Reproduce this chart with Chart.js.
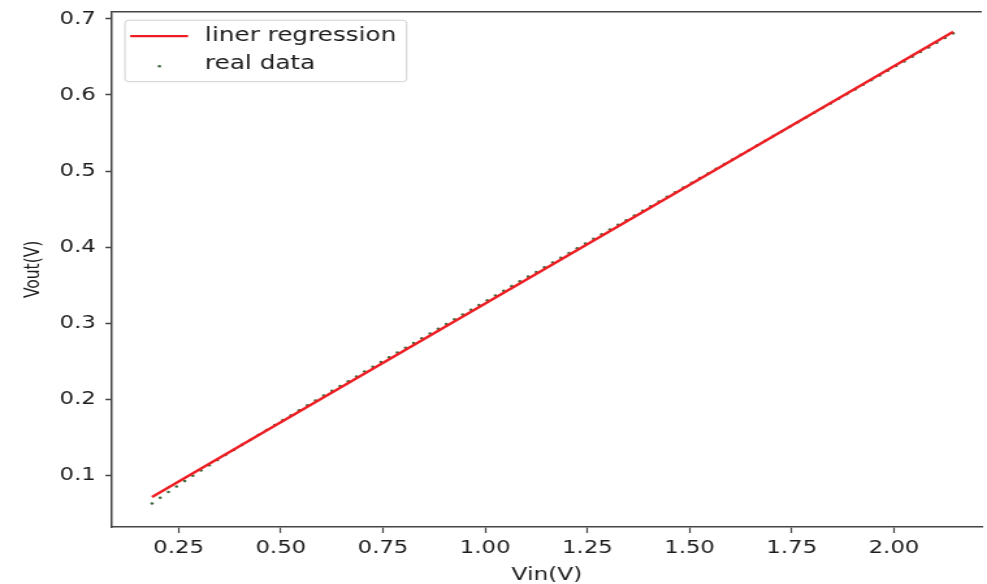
<!DOCTYPE html>
<html lang="en">
<head>
  <meta charset="UTF-8">
  <title>Vout vs Vin</title>
  <script src="https://cdn.jsdelivr.net/npm/chart.js"></script>
  <style>
    body { margin: 0; background: #fff; }
    /* drawn narrower and stretched sideways, like the saved figure */
    #vChart { width: 987px; height: 584px; }
  </style>
</head>
<body>
  <canvas id="vChart" width="759" height="584" style="width:987px;height:584px"></canvas>
  <script>
    // measured points
    const vin = [
      0.185, 0.205, 0.225, 0.245, 0.265, 0.285, 0.305, 0.325, 0.345, 0.365,
      0.385, 0.405, 0.425, 0.445, 0.465, 0.485, 0.505, 0.525, 0.545, 0.565,
      0.585, 0.605, 0.625, 0.645, 0.665, 0.685, 0.705, 0.725, 0.745, 0.765,
      0.785, 0.805, 0.825, 0.845, 0.865, 0.885, 0.905, 0.925, 0.945, 0.965,
      0.985, 1.005, 1.025, 1.045, 1.065, 1.085, 1.105, 1.125, 1.145, 1.165,
      1.185, 1.205, 1.225, 1.245, 1.265, 1.285, 1.305, 1.325, 1.345, 1.365,
      1.385, 1.405, 1.425, 1.445, 1.465, 1.485, 1.505, 1.525, 1.545, 1.565,
      1.585, 1.605, 1.625, 1.645, 1.665, 1.685, 1.705, 1.725, 1.745, 1.765,
      1.785, 1.805, 1.825, 1.845, 1.865, 1.885, 1.905, 1.925, 1.945, 1.965,
      1.985, 2.005, 2.025, 2.045, 2.065, 2.085, 2.105, 2.125, 2.145
    ];
    const vout = [
      0.0626, 0.0701, 0.0776, 0.0848, 0.0920, 0.0990, 0.1060, 0.1128, 0.1196, 0.1263,
      0.1329, 0.1396, 0.1461, 0.1527, 0.1592, 0.1658, 0.1722, 0.1787, 0.1851, 0.1916,
      0.1979, 0.2044, 0.2107, 0.2170, 0.2234, 0.2297, 0.2361, 0.2423, 0.2486, 0.2549,
      0.2612, 0.2674, 0.2737, 0.2799, 0.2861, 0.2924, 0.2986, 0.3049, 0.3111, 0.3174,
      0.3236, 0.3299, 0.3361, 0.3424, 0.3485, 0.3548, 0.3610, 0.3672, 0.3734, 0.3796,
      0.3859, 0.3920, 0.3983, 0.4044, 0.4107, 0.4168, 0.4230, 0.4291, 0.4353, 0.4414,
      0.4475, 0.4537, 0.4598, 0.4660, 0.4721, 0.4783, 0.4844, 0.4906, 0.4967, 0.5029,
      0.5090, 0.5152, 0.5213, 0.5274, 0.5336, 0.5397, 0.5459, 0.5520, 0.5582, 0.5643,
      0.5705, 0.5766, 0.5828, 0.5889, 0.5950, 0.6012, 0.6073, 0.6135, 0.6196, 0.6258,
      0.6319, 0.6381, 0.6442, 0.6504, 0.6565, 0.6626, 0.6688, 0.6749, 0.6811
    ];

    // fitted line end points
    const fitVin = [0.185, 2.145];
    const fitVout = [0.0711, 0.6832];

    // axis ticks and limits
    const xTicks = [0.25, 0.5, 0.75, 1.0, 1.25, 1.5, 1.75, 2.0];
    const yTicks = [0.1, 0.2, 0.3, 0.4, 0.5, 0.6, 0.7];
    const xMin = 0.087, xMax = 2.215;
    const yMin = 0.0316, yMax = 0.7096;

    const FONT = "'DejaVu Sans', sans-serif";
    const INK = "#1c1c1c";
    const SPINE = "#444";

    // top spine, plus a matplotlib style legend box in the upper left
    const frameLegend = {
      id: "frameLegend",
      afterDraw(chart) {
        const { ctx, chartArea: a } = chart;
        ctx.save();
        ctx.strokeStyle = SPINE;
        ctx.lineWidth = 1.6;
        ctx.beginPath();
        ctx.moveTo(a.left, a.top);
        ctx.lineTo(a.right, a.top);
        ctx.stroke();

        const sets = chart.data.datasets;
        ctx.font = "19px " + FONT;
        const textW = Math.max(...sets.map(d => ctx.measureText(d.label).width));
        const bx = a.left + 10, by = a.top + 8.5;
        const textX = bx + 61.5;
        const bw = textX - bx + textW + 8, bh = 61.5;

        ctx.fillStyle = "rgba(255,255,255,0.85)";
        ctx.strokeStyle = "#d0d0d0";
        ctx.lineWidth = 1;
        ctx.beginPath();
        ctx.roundRect(bx, by, bw, bh, 3);
        ctx.fill();
        ctx.stroke();

        const rows = [by + 16, by + 44];
        // line sample
        ctx.strokeStyle = sets[0].borderColor;
        ctx.lineWidth = sets[0].borderWidth;
        ctx.beginPath();
        ctx.moveTo(bx + 4, rows[0]);
        ctx.lineTo(bx + 48.5, rows[0]);
        ctx.stroke();
        // dot sample
        ctx.fillStyle = sets[1].backgroundColor;
        ctx.beginPath();
        ctx.arc(bx + 26.5, rows[1] + 2, sets[1].pointRadius, 0, Math.PI * 2);
        ctx.fill();

        ctx.fillStyle = INK;
        ctx.textBaseline = "middle";
        ctx.textAlign = "left";
        sets.forEach((d, i) => ctx.fillText(d.label, textX, rows[i]));
        ctx.restore();
      }
    };

    const ctx = document.getElementById("vChart").getContext("2d");
    const vChart = new Chart(ctx, {
      data: {
        datasets: [{
          type: "line",
          label: "liner regression",
          data: fitVin.map((x, i) => ({ x, y: fitVout[i] })),
          borderColor: "#ee1d23",
          borderWidth: 2.3,
          pointRadius: 0,
          fill: false
        }, {
          type: "scatter",
          label: "real data",
          data: vin.map((x, i) => ({ x, y: vout[i] })),
          backgroundColor: "#3b6b3b",
          borderWidth: 0,
          pointRadius: 1.3
        }]
      },
      options: {
        responsive: false,
        devicePixelRatio: 1,
        animation: false,
        layout: { padding: { top: 11.7, right: 0, bottom: 0, left: 0 } },
        plugins: {
          legend: { display: false },
          tooltip: { enabled: false }
        },
        scales: {
          x: {
            type: "linear",
            min: xMin,
            max: xMax,
            afterBuildTicks: s => { s.ticks = xTicks.map(v => ({ value: v })); },
            afterFit: s => { s.height = 57; s.paddingLeft = 0; s.paddingRight = 0; },
            ticks: {
              padding: 5,
              color: INK,
              font: { family: FONT, size: 17.5 },
              callback: v => Number(v).toFixed(2)
            },
            grid: { drawOnChartArea: false, drawTicks: true, tickLength: 6, tickColor: SPINE, tickWidth: 1.2 },
            border: { display: true, color: SPINE, width: 1.6 },
            title: {
              display: true,
              text: "Vin(V)",
              color: INK,
              font: { family: FONT, size: 18, lineHeight: 1 },
              padding: { top: 0, bottom: 0 }
            }
          },
          y: {
            type: "linear",
            min: yMin,
            max: yMax,
            afterBuildTicks: s => { s.ticks = yTicks.map(v => ({ value: v })); },
            afterFit: s => { s.width = 86.1; s.paddingTop = 0; s.paddingBottom = 0; },
            ticks: {
              padding: 7.5,
              color: INK,
              font: { family: FONT, size: 17.5 },
              callback: v => Number(v).toFixed(1)
            },
            grid: { drawOnChartArea: false, drawTicks: true, tickLength: 5, tickColor: SPINE, tickWidth: 1.5 },
            border: { display: true, color: SPINE, width: 1.5 },
            title: {
              display: true,
              text: "Vout(V)",
              color: INK,
              font: { family: FONT, size: 15.5, lineHeight: 1 },
              padding: { top: 18.4, bottom: 0 }
            }
          }
        }
      },
      plugins: [frameLegend]
    });
  </script>
</body>
</html>
